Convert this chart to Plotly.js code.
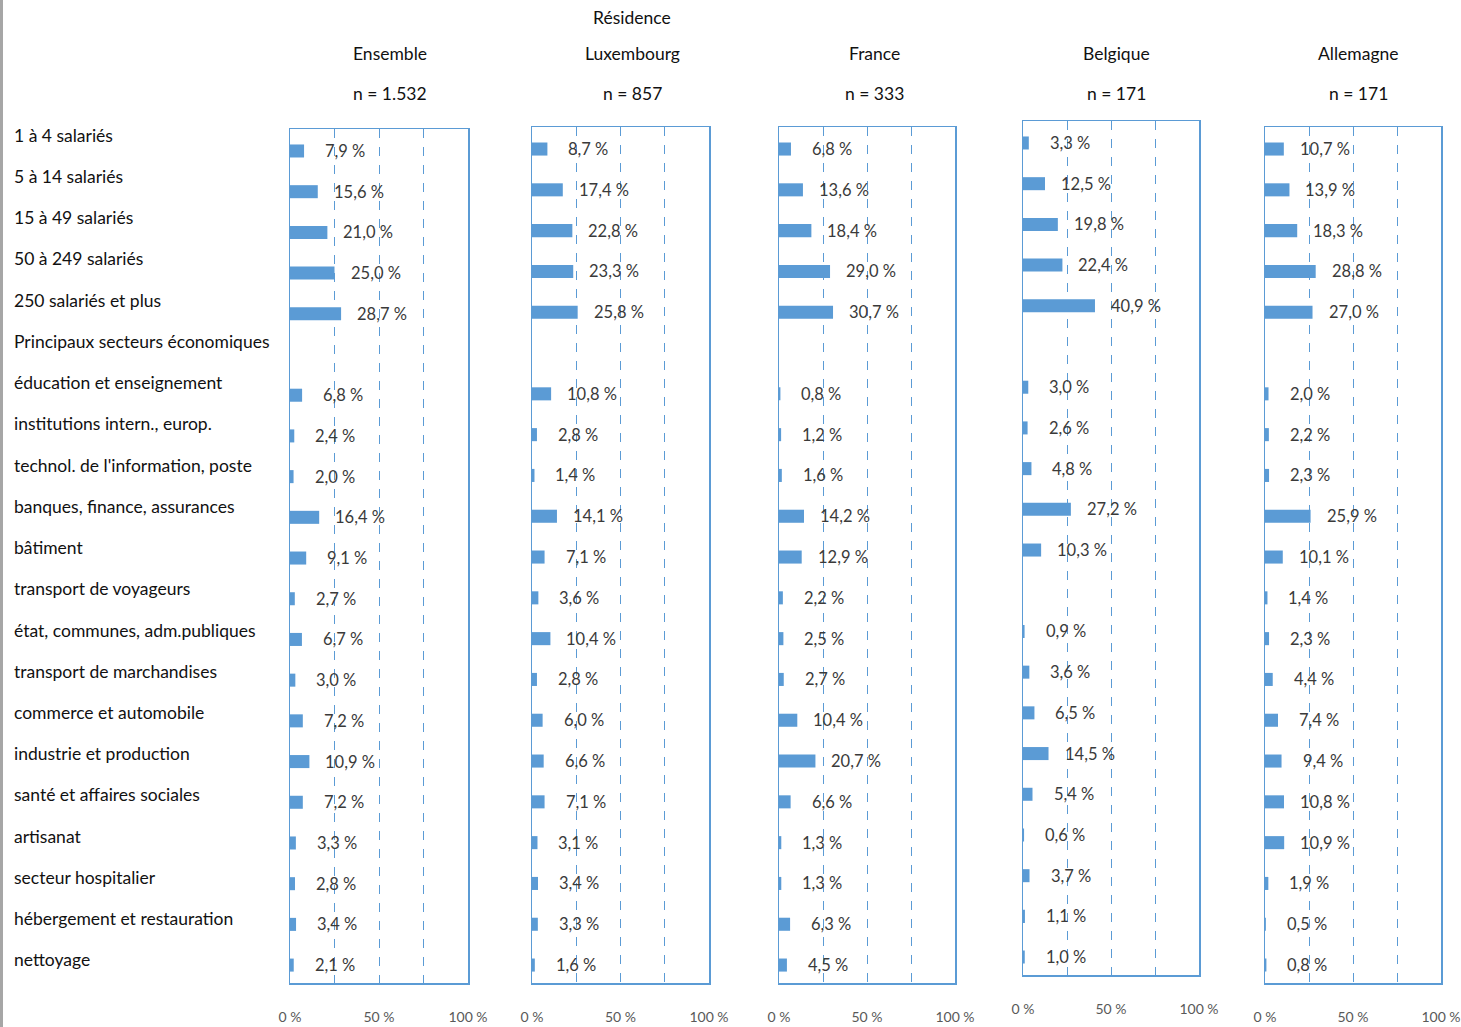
<!DOCTYPE html>
<html>
<head>
<meta charset="utf-8">
<script src="https://cdn.plot.ly/plotly-3.0.1.min.js"></script>
<style>
html,body{margin:0;padding:0;background:#fff;}
#chart{width:1461px;height:1027px;}
</style>
</head>
<body>
<div id="chart"></div>
<script>
// ---- Data ----
const categories = [
  "1 à 4 salariés",
  "5 à 14 salariés",
  "15 à 49 salariés",
  "50 à 249 salariés",
  "250 salariés et plus",
  "Principaux secteurs économiques",
  "éducation et enseignement",
  "institutions intern., europ.",
  "technol. de l'information, poste",
  "banques, finance, assurances",
  "bâtiment",
  "transport de voyageurs",
  "état, communes, adm.publiques",
  "transport de marchandises",
  "commerce et automobile",
  "industrie et production",
  "santé et affaires sociales",
  "artisanat",
  "secteur hospitalier",
  "hébergement et restauration",
  "nettoyage"
];

const ensemble   = [7.9, 15.6, 21.0, 25.0, 28.7, null, 6.8, 2.4, 2.0, 16.4, 9.1, 2.7, 6.7, 3.0, 7.2, 10.9, 7.2, 3.3, 2.8, 3.4, 2.1];
const residenceLux = [8.7, 17.4, 22.8, 23.3, 25.8, null, 10.8, 2.8, 1.4, 14.1, 7.1, 3.6, 10.4, 2.8, 6.0, 6.6, 7.1, 3.1, 3.4, 3.3, 1.6];
const france     = [6.8, 13.6, 18.4, 29.0, 30.7, null, 0.8, 1.2, 1.6, 14.2, 12.9, 2.2, 2.5, 2.7, 10.4, 20.7, 6.6, 1.3, 1.3, 6.3, 4.5];
const belgique   = [3.3, 12.5, 19.8, 22.4, 40.9, null, 3.0, 2.6, 4.8, 27.2, 10.3, null, 0.9, 3.6, 6.5, 14.5, 5.4, 0.6, 3.7, 1.1, 1.0];
const allemagne  = [10.7, 13.9, 18.3, 28.8, 27.0, null, 2.0, 2.2, 2.3, 25.9, 10.1, 1.4, 2.3, 4.4, 7.4, 9.4, 10.8, 10.9, 1.9, 0.5, 0.8];

const panelTitles = [
  ["Ensemble", "n = 1.532"],
  ["Résidence", "Luxembourg", "n = 857"],
  ["France", "n = 333"],
  ["Belgique", "n = 171"],
  ["Allemagne", "n = 171"]
];
const tickVals = [0, 25, 50, 75, 100];
const tickText = ["0 %", "", "50 %", "", "100 %"];

// ---- Layout config ----
const W = 1461, H = 1027;
const FONT = "Lato, 'Liberation Sans', sans-serif";
const BLUE = "#5B9BD5";
const series = [ensemble, residenceLux, france, belgique, allemagne];
const panels = [
  {x0: 290, x1: 468, y0: 129, y1: 983, tx: 0.56},
  {x0: 532, x1: 709, y0: 127, y1: 983, tx: 0.565},
  {x0: 779, x1: 955, y0: 127, y1: 983, tx: 0.54},
  {x0: 1023, x1: 1199, y0: 121, y1: 975, tx: 0.53},
  {x0: 1265, x1: 1441, y0: 127, y1: 983, tx: 0.53}
];
const fmt = v => v.toFixed(1).replace('.', ',') + ' %';

const data = [];
const layout = {
  width: W, height: H,
  margin: {l: 0, r: 0, t: 0, b: 0},
  paper_bgcolor: "#fff", plot_bgcolor: "#fff",
  showlegend: false,
  font: {family: FONT, color: "#262626"},
  annotations: [],
  shapes: [{type: "rect", xref: "paper", yref: "paper", x0: 0, x1: 3/W, y0: 0, y1: 1, fillcolor: "#a6a6a6", line: {width: 0}}]
};

panels.forEach((p, i) => {
  const k = i + 1;
  const xa = k === 1 ? "x" : "x" + k;
  const ya = k === 1 ? "y" : "y" + k;
  const xName = k === 1 ? "xaxis" : "xaxis" + k;
  const yName = k === 1 ? "yaxis" : "yaxis" + k;
  data.push({
    type: "bar", orientation: "h",
    x: series[i], y: categories,
    xaxis: xa, yaxis: ya,
    marker: {color: BLUE},
    width: 0.32,
    hoverinfo: "skip"
  });
  layout[xName] = {
    domain: [p.x0 / W, p.x1 / W],
    anchor: ya,
    range: [0, 100],
    tickvals: tickVals, ticktext: tickText,
    showgrid: true, gridcolor: BLUE, griddash: "dash", gridwidth: 1,
    zeroline: false,
    showline: true, mirror: true, linecolor: BLUE, linewidth: 1.5,
    ticks: "", ticklabelstandoff: 21, ticklabeloverflow: "allow",
    tickfont: {family: FONT, size: 14, color: "#595959"},
    fixedrange: true
  };
  layout[yName] = {
    domain: [1 - p.y1 / H, 1 - p.y0 / H],
    anchor: xa,
    type: "category",
    categoryarray: categories, categoryorder: "array",
    range: [20.44, -0.54],
    showticklabels: false, ticks: "",
    showgrid: false, zeroline: false,
    showline: true, mirror: true, linecolor: BLUE, linewidth: 1.5,
    fixedrange: true
  };
  series[i].forEach((v, j) => {
    if (v === null) return;
    layout.annotations.push({
      xref: xa, yref: ya, x: v, y: categories[j],
      text: fmt(v), showarrow: false,
      xanchor: "center", yanchor: "middle", xshift: 41,
      font: {family: FONT, size: 16.5, color: "#3a3a3a"}
    });
  });
  const lines = panelTitles[i];
  const ys = lines.length === 3 ? [17, 53, 94] : [53, 94];
  lines.forEach((t, j) => {
    layout.annotations.push({
      xref: xa + " domain", yref: "paper", x: p.tx, y: 1 - ys[j] / H,
      text: t, showarrow: false, xanchor: "center", yanchor: "middle",
      font: {family: FONT, size: 17.5, color: "#111111"}
    });
  });
});

// left-side category labels on a hidden helper axis
data.push({
  type: "scatter", mode: "markers", x: categories.map(() => 0), y: categories,
  xaxis: "x6", yaxis: "y6", marker: {opacity: 0}, hoverinfo: "skip"
});
layout.xaxis6 = {domain: [0, 0.05], range: [0, 1], visible: false, anchor: "y6", fixedrange: true};
layout.yaxis6 = {
  domain: [1 - 980.6 / H, 1 - 114.4 / H], anchor: "x6", type: "category",
  categoryarray: categories, categoryorder: "array",
  range: [20.5, -0.5], visible: false, fixedrange: true
};
categories.forEach(c => {
  layout.annotations.push({
    xref: "paper", yref: "y6", x: 12 / W, y: c, text: c, showarrow: false,
    xanchor: "left", yanchor: "middle",
    font: {family: FONT, size: 17.5, color: "#111111"}
  });
});

Plotly.newPlot("chart", data, layout, {displayModeBar: false, staticPlot: true});
</script>
</body>
</html>
